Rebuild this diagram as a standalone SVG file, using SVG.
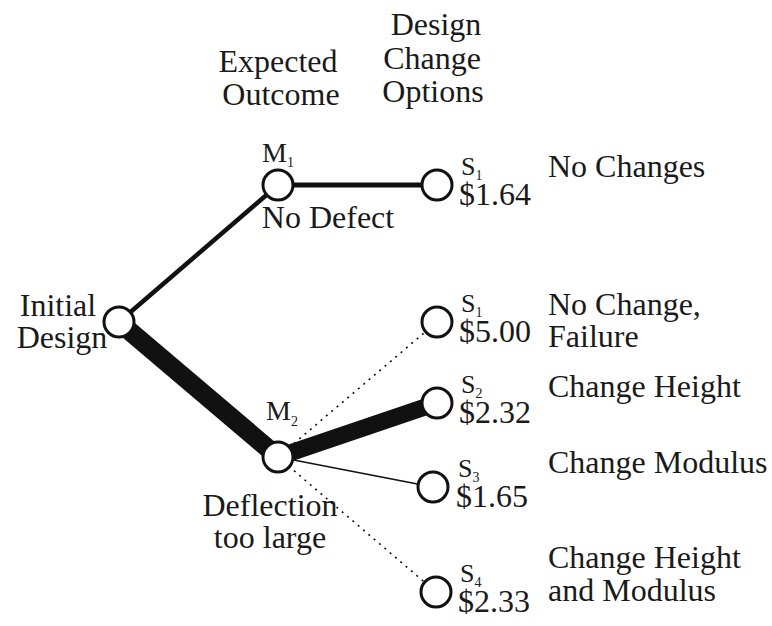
<svg xmlns="http://www.w3.org/2000/svg" width="772" height="626" viewBox="0 0 772 626">
<style>
text{font-family:"Liberation Serif","Times New Roman",serif;fill:#1a1a1a}
.t{font-size:32px}
.m{font-size:28px}
.s{font-size:26px}
.sub{font-size:14px}
.c{text-anchor:middle}
.node{fill:#fff;stroke:#111;stroke-width:3}
.e{stroke:#111;fill:none;stroke-linecap:butt}
.dot{stroke-width:1.6;stroke-dasharray:2 5}
</style>
<rect width="772" height="626" fill="#fff"/>
<g id="headers">
<text class="t c" x="278" y="72">Expected</text>
<text class="t c" x="281" y="105">Outcome</text>
<text class="t c" x="436" y="35">Design</text>
<text class="t c" x="432" y="69">Change</text>
<text class="t c" x="433" y="102">Options</text>
</g>
<g id="connectors">
<line class="e" x1="119" y1="322" x2="278" y2="185" stroke-width="4.5"/>
<line class="e" x1="119" y1="322" x2="278" y2="457" stroke-width="19"/>
<line class="e" x1="278" y1="185" x2="437" y2="185" stroke-width="5"/>
<line class="e dot" x1="278" y1="457" x2="437" y2="322"/>
<line class="e" x1="278" y1="457" x2="437" y2="403" stroke-width="17"/>
<line class="e" x1="278" y1="457" x2="433" y2="487" stroke-width="1.6"/>
<line class="e dot" x1="278" y1="457" x2="436" y2="592"/>
</g>
<g id="initial">
<circle class="node" cx="119" cy="322" r="15"/>
<text class="t c" x="58" y="316">Initial</text>
<text class="t c" x="62" y="348">Design</text>
</g>
<g id="M1">
<circle class="node" cx="278" cy="185" r="15"/>
<text class="m" x="262" y="162">M<tspan class="sub" dy="5">1</tspan></text>
<text class="t c" x="328" y="228">No Defect</text>
</g>
<g id="M2">
<circle class="node" cx="278" cy="457" r="15"/>
<text class="m" x="266" y="420">M<tspan class="sub" dy="6">2</tspan></text>
<text class="t c" x="270" y="516">Deflection</text>
<text class="t c" x="270" y="548">too large</text>
</g>
<g id="S1a">
<circle class="node" cx="437" cy="185" r="15"/>
<text class="s" x="461" y="175">S<tspan class="sub" dy="5">1</tspan></text>
<text class="t" x="459" y="205">$1.64</text>
<text class="t" x="548" y="177">No Changes</text>
</g>
<g id="S1b">
<circle class="node" cx="437" cy="322" r="15"/>
<text class="s" x="461" y="312">S<tspan class="sub" dy="5">1</tspan></text>
<text class="t" x="459" y="342">$5.00</text>
<text class="t" x="548" y="315">No Change,</text>
<text class="t" x="548" y="347">Failure</text>
</g>
<g id="S2">
<circle class="node" cx="437" cy="403" r="15"/>
<text class="s" x="461" y="393">S<tspan class="sub" dy="5">2</tspan></text>
<text class="t" x="459" y="423">$2.32</text>
<text class="t" x="548" y="397">Change Height</text>
</g>
<g id="S3">
<circle class="node" cx="433" cy="487" r="15"/>
<text class="s" x="458" y="477">S<tspan class="sub" dy="5">3</tspan></text>
<text class="t" x="456" y="507">$1.65</text>
<text class="t" x="548" y="473">Change Modulus</text>
</g>
<g id="S4">
<circle class="node" cx="436" cy="592" r="15"/>
<text class="s" x="460" y="582">S<tspan class="sub" dy="5">4</tspan></text>
<text class="t" x="458" y="612">$2.33</text>
<text class="t" x="548" y="568">Change Height</text>
<text class="t" x="548" y="601">and Modulus</text>
</g>
</svg>
